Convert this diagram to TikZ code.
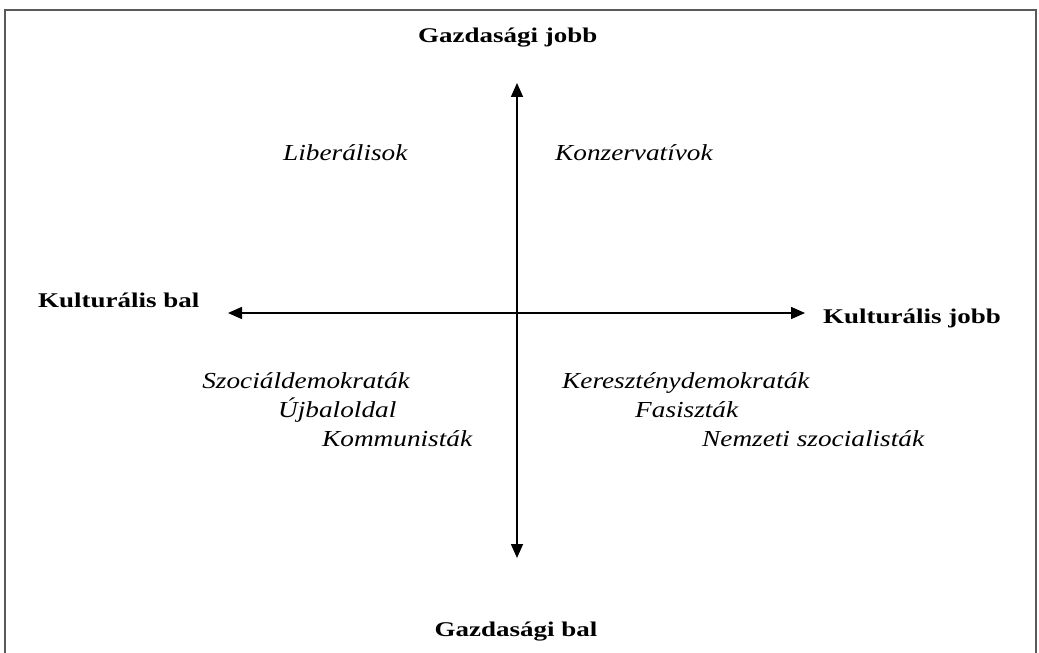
\documentclass[tikz,border=0pt]{standalone}
\usepackage{fontspec}
\setmainfont{Liberation Serif}
\usetikzlibrary{arrows.meta}
\tikzset{
  axislabel/.style={inner sep=0pt, font=\fontsize{21}{25}\selectfont\bfseries},
  party/.style={inner sep=0pt, font=\fontsize{23}{27}\selectfont\itshape},
  axis/.style={line width=1.6bp, {Triangle[length=14bp,width=12bp]}-{Triangle[length=14bp,width=12bp]}},
  frame/.style={line width=1.8bp, draw=black!65}
}
\newcommand{\bx}[1]{\scalebox{1.29}[1]{#1}}
\newcommand{\ix}[1]{\scalebox{1.19}[1]{#1}}
\begin{document}
\begin{tikzpicture}[x=1bp,y=-1bp]
\useasboundingbox (0,0) rectangle (1039,653);
\fill[white] (0,0) rectangle (1039,653);
\coordinate (fbl) at (5,660);
\coordinate (ftl) at (5,10);
\coordinate (ftr) at (1036,10);
\coordinate (fbr) at (1036,660);
\draw[frame] (fbl) -- (ftl) -- (ftr) -- (fbr);

\coordinate (top) at (517,83);
\coordinate (bot) at (517,558);
\coordinate (lft) at (228,313);
\coordinate (rgt) at (805,313);
\draw[axis] (top) -- (bot);
\draw[axis] (lft) -- (rgt);

\node[axislabel, anchor=base west] (gj) at (418,42.5) {\bx{Gazdasági jobb}};
\node[axislabel, anchor=base] (gb) at (516,636) {\bx{Gazdasági bal}};
\node[axislabel, anchor=base west] (kb) at (38,307) {\bx{Kulturális bal}};
\node[axislabel, anchor=base west] (kj) at (823,323) {\bx{Kulturális jobb}};

\node[party, anchor=base west] (lib) at (283,161) {\ix{Liberálisok}};
\node[party, anchor=base west] (kon) at (555,161) {\ix{Konzervatívok}};
\node[party, anchor=base east] (szd) at (410,388) {\ix{Szociáldemokraták}};
\node[party, anchor=base west] (ujb) at (278,417) {\ix{Újbaloldal}};
\node[party, anchor=base west] (kom) at (322,446) {\ix{Kommunisták}};
\node[party, anchor=base west] (ker) at (562,388) {\ix{Kereszténydemokraták}};
\node[party, anchor=base west] (fas) at (635,417) {\ix{Fasiszták}};
\node[party, anchor=base west] (nsz) at (702,446) {\ix{Nemzeti szocialisták}};
\end{tikzpicture}
\end{document}
